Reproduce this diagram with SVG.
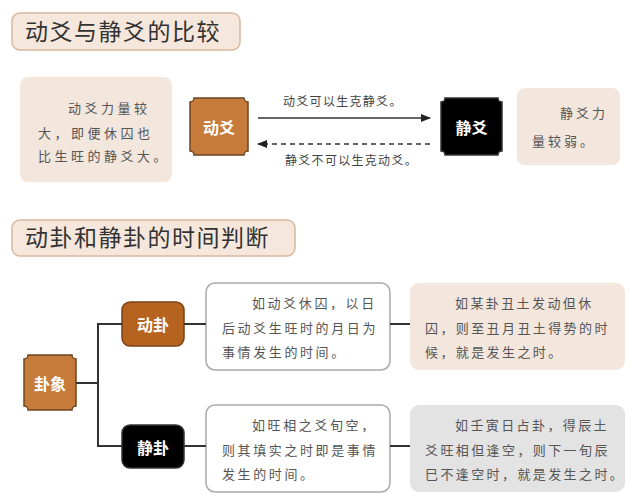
<svg xmlns="http://www.w3.org/2000/svg" width="640" height="500" viewBox="0 0 640 500">
<defs>
<style>
.title{font-family:"Noto Sans CJK SC","Noto Sans",sans-serif;font-size:23px;fill:#333;letter-spacing:1.5px}
.tbox{fill:#f6e7dc;stroke:#d8b8a0;stroke-width:1.5}
.body{font-family:"Noto Sans CJK SC",sans-serif;font-size:13px;fill:#555;letter-spacing:2.6px}
.wide{letter-spacing:3.5px}
.lbl{font-family:"Noto Sans CJK SC",sans-serif;font-size:12px;fill:#444;letter-spacing:1.3px}
.node{font-family:"Noto Sans CJK SC",sans-serif;font-size:16px;font-weight:bold;fill:#fff;text-anchor:middle;dominant-baseline:central}
.orange{fill:#c67b3a;stroke:#6e4420;stroke-width:1.5}
.brown{fill:#b5631f;stroke:#7a4218;stroke-width:1.5}
.black{fill:#000;stroke:#333;stroke-width:1.5}
.beige{fill:#f3e6dc}
.white{fill:#fff;stroke:#a9a9a9;stroke-width:1.5}
.gray{fill:#e3e3e3}
.conn{stroke:#333;stroke-width:2;fill:none}
.arr{stroke:#333;stroke-width:1.5;fill:none}
</style>
<marker id="ah" markerWidth="10" markerHeight="8" refX="9" refY="4" orient="auto" markerUnits="userSpaceOnUse">
<path d="M0,0 L10,4 L0,8 Z" fill="#222"/>
</marker>
</defs>
<rect width="640" height="500" fill="#fff"/>

<g id="title1">
<rect class="tbox" x="12" y="13" width="228" height="37" rx="8"/>
<text class="title" x="25" y="40">动爻与静爻的比较</text>
</g>

<g id="desc-dongyao">
<rect class="beige" x="20" y="77" width="152" height="105" rx="8"/>
<text class="body wide"><tspan x="68" y="113">动爻力量较</tspan><tspan x="38" y="138">大，即便休囚也</tspan><tspan x="38" y="161">比生旺的静爻大。</tspan></text>
</g>

<g id="dongyao">
<path class="orange" d="M194,98 H244 A4,4 0 0 0 248,102 V151 A4,4 0 0 0 244,155 H194 A4,4 0 0 0 190,151 V102 A4,4 0 0 0 194,98 Z"/>
<text class="node" x="219" y="126.5">动爻</text>
</g>

<g id="jingyao">
<path class="black" d="M445,98 H498 A4,4 0 0 0 502,102 V151 A4,4 0 0 0 498,155 H445 A4,4 0 0 0 441,151 V102 A4,4 0 0 0 445,98 Z"/>
<text class="node" x="471.5" y="126.5">静爻</text>
</g>

<g id="desc-jingyao">
<rect class="beige" x="517" y="88" width="103" height="77" rx="8"/>
<text class="body" style="letter-spacing:3px"><tspan x="560" y="118">静爻力</tspan><tspan x="532" y="146">量较弱。</tspan></text>
</g>

<g id="title2">
<rect class="tbox" x="12" y="220" width="283" height="36" rx="8"/>
<text class="title" x="25" y="246">动卦和静卦的时间判断</text>
</g>

<g id="guaxiang">
<path class="orange" d="M28,355 H72 A4,4 0 0 0 76,359 V406 A4,4 0 0 0 72,410 H28 A4,4 0 0 0 24,406 V359 A4,4 0 0 0 28,355 Z"/>
<text class="node" x="50" y="383">卦象</text>
</g>

<g id="donggua">
<rect class="brown" x="122" y="302" width="62" height="44" rx="8"/>
<text class="node" x="153" y="324">动卦</text>
</g>

<g id="jinggua">
<rect class="black" x="122" y="425" width="62" height="43" rx="8"/>
<text class="node" x="153" y="446.5">静卦</text>
</g>

<g id="box-donggua">
<rect class="white" x="206" y="283" width="184" height="87" rx="9"/>
<text class="body"><tspan x="252" y="308">如动爻休囚，以日</tspan><tspan x="222" y="333">后动爻生旺时的月日为</tspan><tspan x="222" y="357">事情发生的时间。</tspan></text>
</g>

<g id="box-donggua-ex">
<rect class="beige" x="410" y="283" width="215" height="87" rx="9"/>
<text class="body" style="letter-spacing:2.4px"><tspan x="455" y="308">如某卦丑土发动但休</tspan><tspan x="425" y="333">囚，则至丑月丑土得势的时</tspan><tspan x="425" y="357">候，就是发生之时。</tspan></text>
</g>

<g id="box-jinggua">
<rect class="white" x="206" y="405" width="184" height="87" rx="9"/>
<text class="body"><tspan x="252" y="430">如旺相之爻旬空，</tspan><tspan x="222" y="455">则其填实之时即是事情</tspan><tspan x="222" y="479">发生的时间。</tspan></text>
</g>

<g id="box-jinggua-ex">
<rect class="gray" x="410" y="405" width="215" height="87" rx="9"/>
<text class="body" style="letter-spacing:2.4px"><tspan x="455" y="430">如壬寅日占卦，得辰土</tspan><tspan x="425" y="455">爻旺相但逢空，则下一旬辰</tspan><tspan x="425" y="479">巳不逢空时，就是发生之时。</tspan></text>
</g>

<g id="connectors">
<line class="arr" x1="258" y1="118" x2="430" y2="118" marker-end="url(#ah)"/>
<line class="arr" x1="430" y1="144" x2="258" y2="144" stroke-dasharray="5,4" marker-end="url(#ah)"/>
<text class="lbl" x="283" y="106">动爻可以生克静爻。</text>
<text class="lbl" x="285" y="165">静爻不可以生克动爻。</text>
<path class="conn" d="M76,383 H98 M98,323 V447 M98,324 H122 M98,446 H122"/>
<line class="conn" x1="184" y1="324" x2="206" y2="324"/>
<line class="conn" x1="184" y1="446" x2="206" y2="446"/>
<line class="conn" x1="390" y1="324" x2="410" y2="324"/>
<line class="conn" x1="390" y1="446" x2="410" y2="446"/>
</g>
</svg>
